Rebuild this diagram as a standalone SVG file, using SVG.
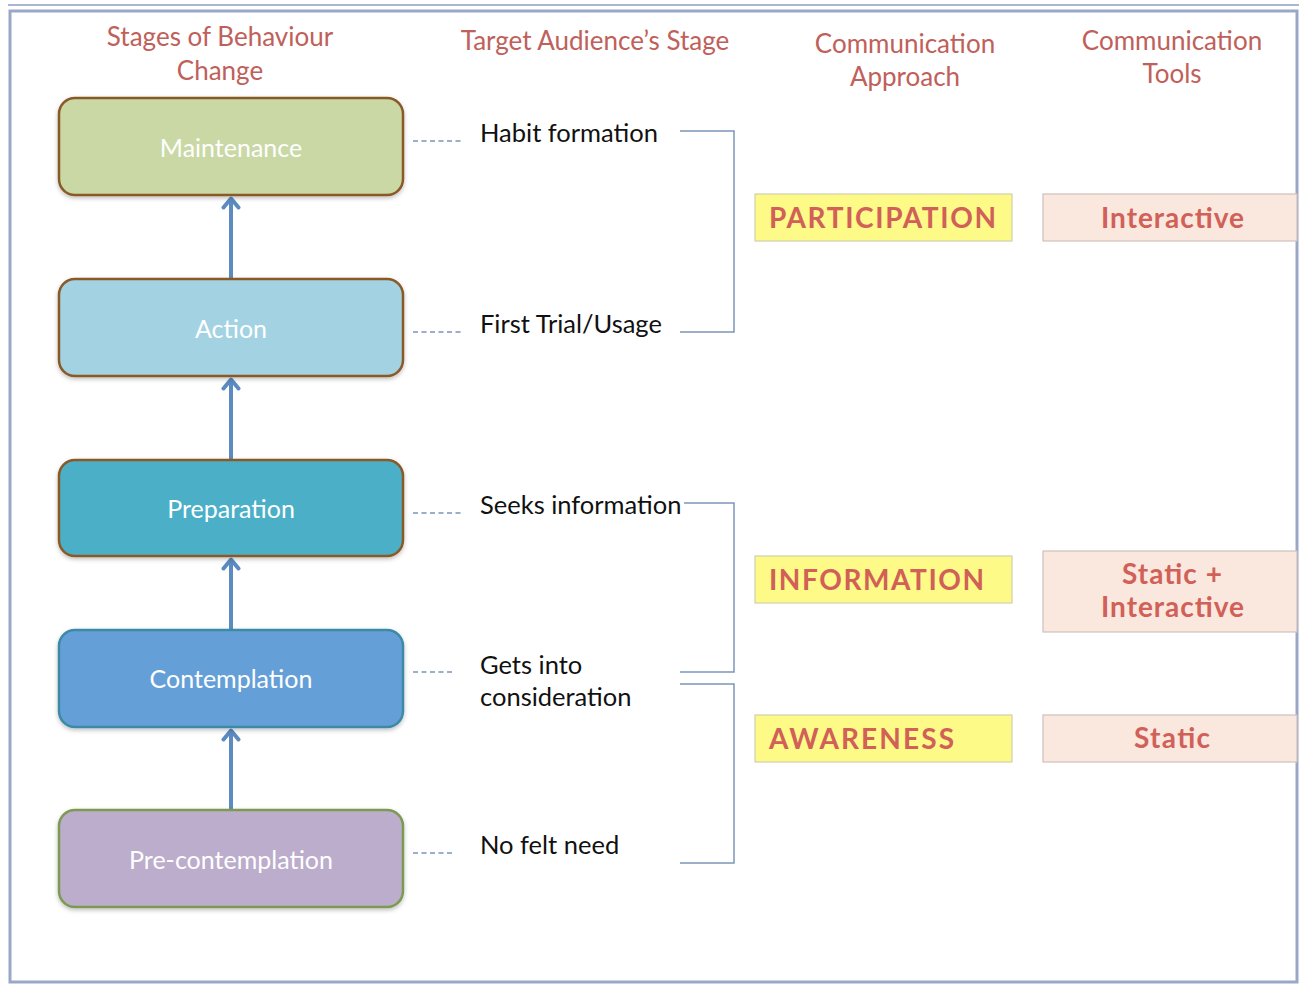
<svg xmlns="http://www.w3.org/2000/svg" width="1303" height="984" viewBox="0 0 1303 984">
<defs>
<style>
.hdr{font-family:Lato,"Open Sans",sans-serif;font-size:26px;fill:#c0605a;text-anchor:middle}
.node rect{stroke-width:2.5}
.ntx{font-family:Lato,"Open Sans",sans-serif;font-size:25px;fill:#ffffff;text-anchor:middle}
.lbl{font-family:Lato,"Open Sans",sans-serif;font-size:25.5px;fill:#111111}
.dash{stroke:#7a95b8;stroke-width:1.5;stroke-dasharray:5 3.5;fill:none}
.brk{stroke:#7e97b8;stroke-width:1.5;fill:none}
.arr{stroke:#5b8bc0;stroke-width:4;fill:none}
.ybox{fill:#fdfa87;stroke:#cfcfb0;stroke-width:1.2}
.pbox{fill:#fae8de;stroke:#d0c0bc;stroke-width:1.2}
.btx{font-family:Lato,"Open Sans",sans-serif;font-weight:bold;font-size:28px;fill:#d06058}
</style>
<marker id="ah" viewBox="0 0 14 20" refX="12" refY="10" markerWidth="14" markerHeight="20" markerUnits="userSpaceOnUse" orient="auto">
<path d="M2.5,2.5 L11.5,10 L2.5,17.5" fill="none" stroke="#5b8bc0" stroke-width="4" stroke-linecap="round" stroke-linejoin="round"/>
</marker>
<filter id="sh" x="-5%" y="-5%" width="110%" height="120%">
<feDropShadow dx="0" dy="2" stdDeviation="2" flood-color="#000" flood-opacity="0.25"/>
</filter>
</defs>
<rect width="1303" height="984" fill="#ffffff"/>
<g id="frame">
<line x1="8" y1="5" x2="1299" y2="5" stroke="#a9b6d2" stroke-width="2"/>
<rect x="10" y="11" width="1287" height="971" fill="none" stroke="#9aa8c8" stroke-width="3"/>
</g>
<g id="headers">
<text class="hdr" x="220" y="46">Stages of Behaviour</text>
<text class="hdr" x="220" y="80">Change</text>
<text class="hdr" x="595" y="50">Target Audience’s Stage</text>
<text class="hdr" x="905" y="53">Communication</text>
<text class="hdr" x="905" y="86">Approach</text>
<text class="hdr" x="1172" y="50">Communication</text>
<text class="hdr" x="1172" y="83">Tools</text>
</g>
<g id="connectors">
<line class="arr" x1="231" y1="279" x2="231" y2="198" marker-end="url(#ah)"/>
<line class="arr" x1="231" y1="460" x2="231" y2="379" marker-end="url(#ah)"/>
<line class="arr" x1="231" y1="630" x2="231" y2="559" marker-end="url(#ah)"/>
<line class="arr" x1="231" y1="810" x2="231" y2="730" marker-end="url(#ah)"/>
<line class="dash" x1="413" y1="141" x2="464" y2="141"/>
<line class="dash" x1="413" y1="332" x2="464" y2="332"/>
<line class="dash" x1="413" y1="513" x2="464" y2="513"/>
<line class="dash" x1="413" y1="672" x2="455" y2="672"/>
<line class="dash" x1="413" y1="853" x2="455" y2="853"/>
<path class="brk" d="M680,131 H734 V332 H680"/>
<path class="brk" d="M684,503 H734 V672 H680"/>
<path class="brk" d="M680,684 H734 V863 H680"/>
</g>
<g id="n-maintenance" class="node"><rect x="59" y="98" width="344" height="97" rx="16" fill="#c9d8a5" stroke="#8a5a28" filter="url(#sh)"/><text class="ntx" x="231" y="157">Maintenance</text></g>
<g id="n-action" class="node"><rect x="59" y="279" width="344" height="97" rx="16" fill="#a3d3e3" stroke="#8a5a28" filter="url(#sh)"/><text class="ntx" x="231" y="338">Action</text></g>
<g id="n-preparation" class="node"><rect x="59" y="460" width="344" height="96" rx="16" fill="#4bafc8" stroke="#8a5a28" filter="url(#sh)"/><text class="ntx" x="231" y="518">Preparation</text></g>
<g id="n-contemplation" class="node"><rect x="59" y="630" width="344" height="97" rx="16" fill="#659fd8" stroke="#3d8aa6" filter="url(#sh)"/><text class="ntx" x="231" y="688">Contemplation</text></g>
<g id="n-precontemplation" class="node"><rect x="59" y="810" width="344" height="97" rx="16" fill="#bcadcc" stroke="#7d9a52" filter="url(#sh)"/><text class="ntx" x="231" y="869">Pre-contemplation</text></g>
<g id="labels">
<text class="lbl" x="480" y="142">Habit formation</text>
<text class="lbl" x="480" y="333">First Trial/Usage</text>
<text class="lbl" x="480" y="514">Seeks information</text>
<text class="lbl" x="480" y="674">Gets into</text>
<text class="lbl" x="480" y="706">consideration</text>
<text class="lbl" x="480" y="854">No felt need</text>
</g>
<g id="n-participation"><rect class="ybox" x="755" y="194" width="257" height="47"/><text class="btx" x="769" y="228" textLength="227">PARTICIPATION</text></g>
<g id="n-information"><rect class="ybox" x="755" y="556" width="257" height="47"/><text class="btx" x="769" y="590" textLength="215">INFORMATION</text></g>
<g id="n-awareness"><rect class="ybox" x="755" y="715" width="257" height="47"/><text class="btx" x="769" y="749" textLength="185">AWARENESS</text></g>
<g id="n-interactive"><rect class="pbox" x="1043" y="194" width="254" height="47"/><text class="btx" x="1101" y="228" textLength="143">Interactive</text></g>
<g id="n-static-interactive"><rect class="pbox" x="1043" y="551" width="254" height="81"/><text class="btx" x="1122" y="584" textLength="100">Static +</text><text class="btx" x="1101" y="617" textLength="143">Interactive</text></g>
<g id="n-static"><rect class="pbox" x="1043" y="715" width="254" height="47"/><text class="btx" x="1134" y="748" textLength="76">Static</text></g>
</svg>
